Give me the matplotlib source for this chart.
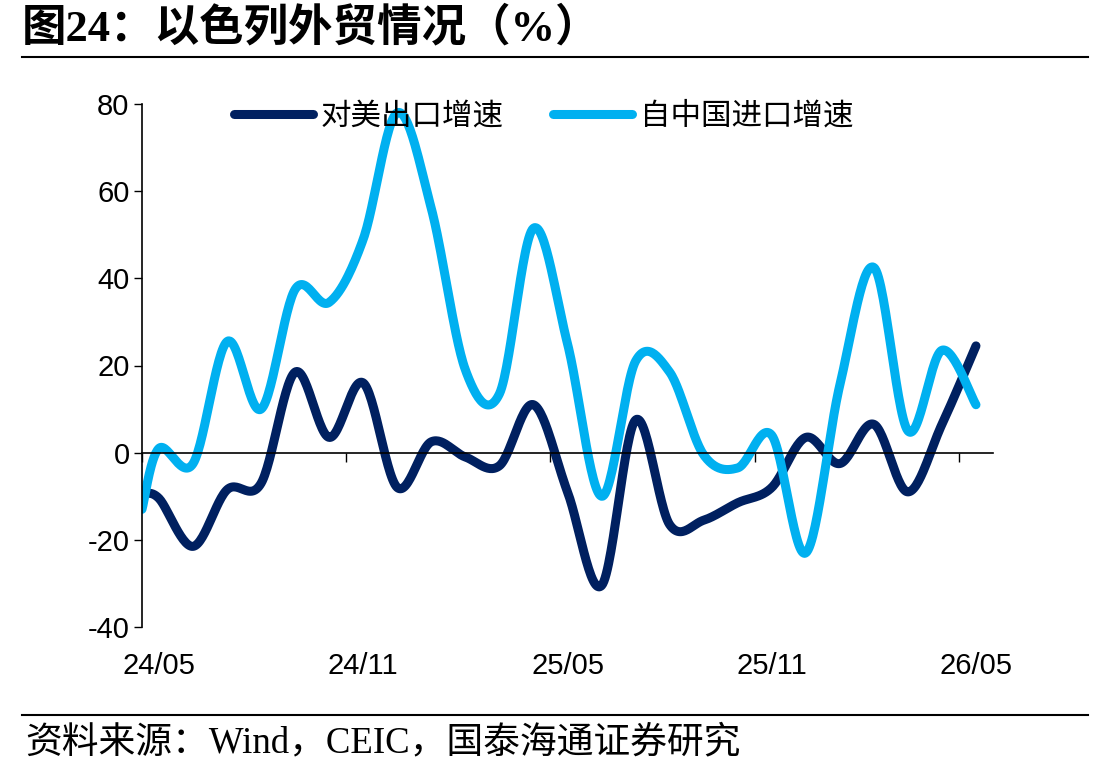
import numpy as np
import matplotlib
matplotlib.use("Agg")
import matplotlib.pyplot as plt
from matplotlib.lines import Line2D

plt.rcParams['font.family'] = ['Liberation Sans', 'Noto Sans CJK SC', 'DejaVu Sans']
plt.rcParams['axes.unicode_minus'] = False

# monthly data, 24/05 .. 26/05 (points sit mid-month, plus a start point)
tick_labels = ["24/05", "24/11", "25/05", "25/11", "26/05"]
us_export = [-9.5, -10.5, -21.5, -8.5, -7, 18.5, 3.5, 16, -8, 2.5, -1, -3, 11,
             -9, -30.5, 7.5, -16.5, -15.5, -11.5, -8, 3.5, -2.5, 6.5, -9, 6.5, 24.5]
cn_import = [-13, 1, -2.5, 25.5, 10, 37.5, 34.5, 49, 78, 56, 19, 13.5, 51.5,
             25, -10, 21, 18.5, -0.5, -3.5, 4, -23, 15.5, 42.5, 5, 23.5, 11]
x = np.r_[0.0, np.arange(len(us_export) - 1) + 0.5]


def smooth(xs, ys, n=30):
    # excel style smoothed line (cubic bezier through every point)
    p = np.column_stack([xs, ys]).astype(float)
    ext = np.vstack([p[0], p, p[-1]])
    t = np.linspace(0, 1, n)[:, None]
    out = []
    for i in range(len(p) - 1):
        p0, p1 = p[i], p[i + 1]
        c1 = p0 + (ext[i + 2] - ext[i]) / 6
        c2 = p1 - (ext[i + 3] - ext[i + 1]) / 6
        seg = (1 - t) ** 3 * p0 + 3 * (1 - t) ** 2 * t * c1 + 3 * (1 - t) * t ** 2 * c2 + t ** 3 * p1
        out.append(seg if i == 0 else seg[1:])
    out = np.vstack(out)
    return out[:, 0], out[:, 1]


fig = plt.figure(figsize=(11.07, 7.74), dpi=100)
ax = fig.add_axes([142 / 1107, 1 - 627 / 774, 851 / 1107, 523 / 774])

navy, sky = "#002060", "#00B0F0"
xs, ys = smooth(x, us_export)
ax.plot(xs, ys, color=navy, lw=6.5, solid_capstyle="round", label="对美出口增速")
xs, ys = smooth(x, cn_import)
ax.plot(xs, ys, color=sky, lw=6.5, solid_capstyle="round", label="自中国进口增速")

ax.set_xlim(0, 25)
ax.set_ylim(-40, 80)
ax.set_yticks(range(-40, 81, 20))
ticks = [0, 6, 12, 18, 24]
ax.set_xticks(ticks)
ax.tick_params(axis="x", direction="out", length=6.5, width=1, labelbottom=False)
ax.tick_params(axis="y", direction="out", length=6, width=1, labelsize=21, pad=3)
for sp in ["top", "right"]:
    ax.spines[sp].set_visible(False)
ax.spines["bottom"].set_position(("data", 0))
ax.spines["bottom"].set_linewidth(1.2)
ax.spines["left"].set_linewidth(1.2)

# month labels sit in the middle of the month
for t, lab in zip(ticks, tick_labels):
    ax.text(t + 0.5, -0.075, lab, transform=ax.get_xaxis_transform(), ha="center",
            va="center", fontsize=21)

leg = ax.legend(loc="center left", bbox_to_anchor=(0.108, 0.977), ncol=2, frameon=False,
                handlelength=2.6, columnspacing=1.6, handletextpad=0.25,
                borderpad=0, borderaxespad=0,
                prop={"family": ["Noto Sans CJK SC"], "size": 22})

fig.text(22 / 1107, 1 - 28 / 774, "图24：以色列外贸情况（%）", fontsize=32, weight="bold",
         family=["Liberation Serif", "Noto Sans CJK SC"], va="center", ha="left")
fig.add_artist(Line2D([22 / 1107, 1088 / 1107], [1 - 57 / 774] * 2, color="black", lw=1.5))
fig.add_artist(Line2D([22 / 1107, 1088 / 1107], [1 - 715 / 774] * 2, color="black", lw=1.5))
fig.text(25 / 1107, 1 - 743 / 774, "资料来源：Wind，CEIC，国泰海通证券研究", fontsize=26.5,
         family=["Liberation Serif", "Noto Sans CJK SC"], va="center", ha="left")

fig.savefig("out.png", dpi=100)
